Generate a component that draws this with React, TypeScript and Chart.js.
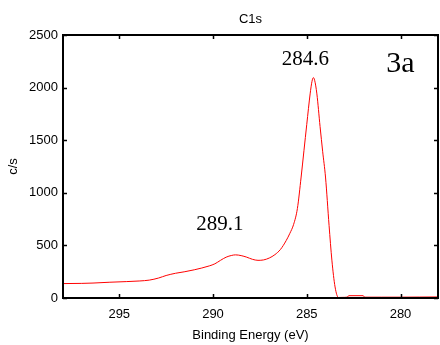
import React, { useEffect, useRef } from "react";
import { Chart, registerables } from "chart.js";

Chart.register(...registerables);

// Binding energy (eV) and counts per second (c/s)
const energy = [
  298, 297, 296.4, 295.5, 294.6, 293.9, 293.4, 292.9, 292.5, 292, 291.5, 291, 290.6, 290.2,
  289.9, 289.6, 289.3, 289.0, 288.8, 288.5, 288.2, 287.9, 287.6, 287.3, 287.0, 286.7,
  286.4, 286.1, 285.9, 285.7, 285.5, 285.3, 285.15, 285.0, 284.82, 284.72, 284.65,
  284.58, 284.46, 284.29, 284.15, 284.0, 283.81, 283.66, 283.49, 283.31, 283.1, 282.85,
  282.75, 282.0, 281.9, 281.0, 280, 279, 278,
];
const counts = [
  137, 139, 142, 150, 156, 162, 170, 190, 214, 235, 250, 268, 285, 305,
  325, 358, 388, 405, 410, 403, 388, 368, 358, 362, 380, 412,
  462, 545, 615, 700, 850, 1150, 1400, 1650, 1940, 2060, 2095,
  2070, 1940, 1630, 1390, 1150, 690, 360, 105, 5, 6, 8,
  22, 22, 8, 8, 8, 9, 10,
];

const xTickValues = [295, 290, 285, 280];
const yTickValues = [0, 500, 1000, 1500, 2000, 2500];

const chartTitle = "C1s";
const xTitle = "Binding Energy (eV)";
const yTitle = "c/s";
const annotationTexts = ["284.6", "289.1", "3a"];
const annotationX = [285.07, 289.64, 280.0];
const annotationY = [2211, 643, 2150];
const annotationSizes = [21, 21, 30];

const SANS = "'Liberation Sans', Arial, Helvetica, sans-serif";
const SERIF = "'Liberation Serif', 'Times New Roman', Times, serif";

const framePlugin = {
  id: "framePlugin",
  afterDraw(chart: any) {
    const { ctx, chartArea } = chart;
    const { left, right, top, bottom } = chartArea;
    const xs = chart.scales.x;
    const ys = chart.scales.y;
    ctx.save();
    ctx.strokeStyle = "#000";
    ctx.lineWidth = 2;
    ctx.strokeRect(left, top, right - left, bottom - top);
    ctx.lineWidth = 1.5;
    const tl = 4;
    ctx.beginPath();
    xTickValues.forEach((v) => {
      const px = Math.round(xs.getPixelForValue(v)) + 0.5;
      ctx.moveTo(px, bottom);
      ctx.lineTo(px, bottom - tl);
      ctx.moveTo(px, top);
      ctx.lineTo(px, top + tl);
    });
    yTickValues.forEach((v) => {
      const py = Math.round(ys.getPixelForValue(v)) + 0.5;
      ctx.moveTo(left, py);
      ctx.lineTo(left + tl, py);
      ctx.moveTo(right, py);
      ctx.lineTo(right - tl, py);
    });
    ctx.stroke();

    // chart title
    ctx.fillStyle = "#000";
    ctx.font = `13px ${SANS}`;
    ctx.textAlign = "center";
    ctx.textBaseline = "alphabetic";
    ctx.fillText(chartTitle, (left + right) / 2, 23);

    // peak annotations
    annotationTexts.forEach((t, i) => {
      ctx.font = `${annotationSizes[i]}px ${SERIF}`;
      ctx.fillText(t, xs.getPixelForValue(annotationX[i]), ys.getPixelForValue(annotationY[i]));
    });
    ctx.restore();
  },
};

export default function App() {
  const ref = useRef<HTMLCanvasElement | null>(null);

  useEffect(() => {
    if (!ref.current) return;
    const chart = new Chart(ref.current, {
      type: "line",
      data: {
        datasets: [
          {
            data: energy.map((e, i) => ({ x: e, y: counts[i] })),
            borderColor: "#ff0000",
            borderWidth: 1,
            pointRadius: 0,
            cubicInterpolationMode: "monotone",
            fill: false,
          },
        ],
      },
      options: {
        animation: false,
        responsive: true,
        maintainAspectRatio: false,
        layout: { padding: { top: 35, right: 2, left: 0, bottom: 0 } },
        plugins: {
          legend: { display: false },
          title: { display: false },
          tooltip: { enabled: false },
        },
        scales: {
          x: {
            type: "linear",
            reverse: true,
            min: 278,
            max: 298,
            grid: { display: false, drawTicks: false },
            border: { display: false },
            afterBuildTicks: (s: any) => {
              s.ticks = xTickValues.map((v) => ({ value: v }));
            },
            afterFit: (s: any) => {
              s.height = 47;
            },
            ticks: {
              color: "#000",
              font: { size: 13, family: SANS },
              padding: 9,
              maxRotation: 0,
              callback: (v: any) => String(v),
            },
            title: {
              display: true,
              text: xTitle,
              color: "#000",
              font: { size: 13, family: SANS },
              padding: { top: 0, bottom: 2 },
            },
          },
          y: {
            type: "linear",
            min: 0,
            max: 2500,
            grid: { display: false, drawTicks: false },
            border: { display: false },
            afterBuildTicks: (s: any) => {
              s.ticks = yTickValues.map((v) => ({ value: v }));
            },
            afterFit: (s: any) => {
              s.width = 63;
            },
            ticks: {
              color: "#000",
              font: { size: 13, family: SANS },
              padding: 5,
              callback: (v: any) => String(v),
            },
            title: {
              display: true,
              text: yTitle,
              color: "#000",
              font: { size: 13, family: SANS },
              padding: { top: 6, bottom: 0 },
            },
          },
        },
      },
      plugins: [framePlugin],
    } as any);
    return () => chart.destroy();
  }, []);

  return (
    <div style={{ position: "fixed", left: 0, top: 0, width: 440, height: 345, background: "#fff" }}>
      <canvas ref={ref} />
    </div>
  );
}
